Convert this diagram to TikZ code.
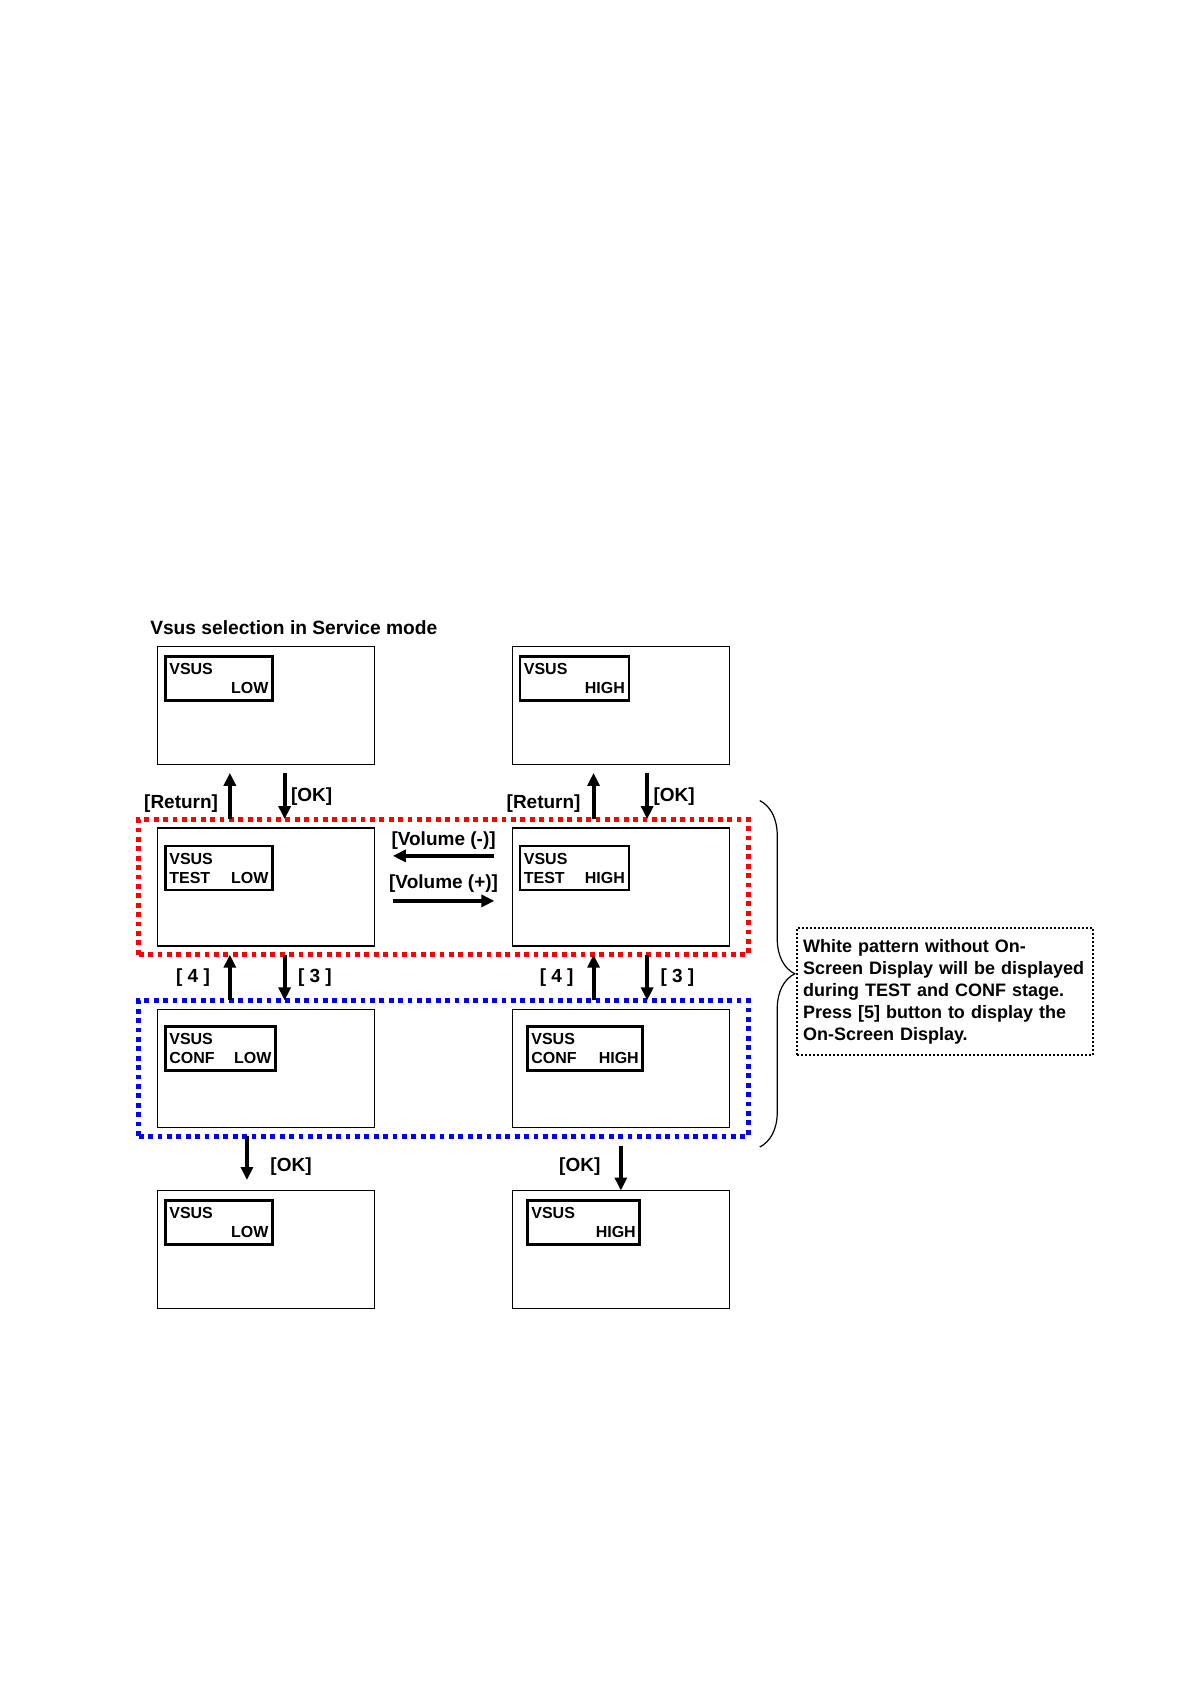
\documentclass[tikz,border=0pt]{standalone}
\usepackage{fontspec}
\setmainfont{Liberation Sans}
\usepackage{tikz}
\usetikzlibrary{
  arrows.meta,
  positioning,
  fit,
  calc,
  decorations.pathreplacing,
}
\setlength{\parindent}{0pt}
\hyphenpenalty=10000
\definecolor{testRed}{HTML}{FF0000}
\definecolor{confBlue}{HTML}{0000FF}
\newcommand{\pushright}{\hskip 0pt plus 1filll\relax}
\tikzset{
  screen/.style={
    rectangle, draw=black, line width=0.6pt, fill=white,
    minimum width=108.5pt, minimum height=59pt, inner sep=0pt, outer sep=0pt,
  },
  osd/.style={
    rectangle, draw=black, line width=1.3pt, outer sep=0pt,
    inner xsep=2pt, inner ysep=1pt, minimum height=22pt,
    text width=#1, align=left, font=\fontsize{8}{9.6}\selectfont\bfseries,
  },
  stageFrame/.style={
    rectangle, draw=#1, line width=2.5pt, dash pattern=on 2.4pt off 2.3pt,
    inner xsep=9.5pt, inner ysep=4.4pt, outer sep=0pt,
  },
  titleText/.style={
    inner sep=0pt, font=\fontsize{9.6}{11.5}\selectfont\bfseries,
  },
  keyLabel/.style={
    inner sep=0pt, yshift=-1.6pt, font=\fontsize{9.5}{11}\selectfont\bfseries,
  },
  flowArrow/.style={
    -{Triangle[length=6.5pt,width=6pt]}, line width=2pt, draw=black,
  },
  noteBrace/.style={
    decorate, decoration={brace, amplitude=17.5pt}, line width=0.6pt,
  },
  noteBox/.style={
    rectangle, draw=black, line width=1pt, dash pattern=on 1pt off 1pt,
    inner xsep=3pt, inner ysep=2pt, text width=142pt, minimum height=63.5pt,
    align=left, font=\fontsize{9}{11}\selectfont\bfseries,
  },
}

\begin{document}
\begin{tikzpicture}[x=0.5pt, y=-0.5pt, node distance=31.65pt and 68.75pt]

\fill[white] (0,0) rectangle (1190,1684);
\useasboundingbox (0,0) rectangle (1190,1684);

% screens
\node[screen] (lowStart) at (266.35,705.6) {};
\node[screen, right=of lowStart] (highStart) {};
\node[screen, below=of lowStart] (testLow) {};
\node[screen, right=of testLow] (testHigh) {};
\node[screen, below=of testLow] (confLow) {};
\node[screen, right=of confLow] (confHigh) {};
\node[screen, below=of confLow] (lowEnd) {};
\node[screen, right=of lowEnd] (highEnd) {};

\node[titleText, anchor=west] (title) at ($(lowStart.north west)+(-8,-18.5)$)
  {Vsus selection in Service mode};

% on-screen displays
\node[osd=49.5pt, below right=4.85pt and 3.75pt of lowStart.north west] (lowStartOsd)
  {VSUS\\\pushright LOW};
\node[osd=50.5pt, below right=4.85pt and 3.75pt of highStart.north west] (highStartOsd)
  {VSUS\\\pushright HIGH};
\node[osd=49.5pt, below right=9.1pt and 3.75pt of testLow.north west] (testLowOsd)
  {VSUS\\TEST\pushright LOW};
\node[osd=50.5pt, below right=9.1pt and 3.75pt of testHigh.north west] (testHighOsd)
  {VSUS\\TEST\pushright HIGH};
\node[osd=51.1pt, below right=8.6pt and 3.75pt of confLow.north west] (confLowOsd)
  {VSUS\\CONF\pushright LOW};
\node[osd=53.7pt, below right=8.6pt and 7.5pt of confHigh.north west] (confHighOsd)
  {VSUS\\CONF\pushright HIGH};
\node[osd=49.5pt, below right=4.85pt and 3.75pt of lowEnd.north west] (lowEndOsd)
  {VSUS\\\pushright LOW};
\node[osd=52.2pt, below right=4.85pt and 7.5pt of highEnd.north west] (highEndOsd)
  {VSUS\\\pushright HIGH};

% TEST / CONF stage frames
\node[stageFrame=testRed, fit=(testLow)(testHigh)] (testBox) {};
\node[stageFrame=confBlue, fit=(confLow)(confHigh)] (confBox) {};

% key arrows
\coordinate (retL) at ($(lowStart.south)+(-36.5,8.3)$);
\coordinate (okL)  at ($(lowStart.south)+(18.3,8.3)$);
\coordinate (retH) at ($(highStart.south)+(-27.3,8.3)$);
\coordinate (okH)  at ($(highStart.south)+(26.3,8.3)$);

\draw[flowArrow] (testBox.north -| retL) -- node[keyLabel, pos=0.4, left=4.9pt] {[Return]} (retL);
\draw[flowArrow] (okL) -- node[keyLabel, pos=0.45, right=2.2pt] {[OK]} (testBox.north -| okL);
\draw[flowArrow] (testBox.north -| retH) -- node[keyLabel, pos=0.4, left=5.5pt] {[Return]} (retH);
\draw[flowArrow] (okH) -- node[keyLabel, pos=0.45, right=2.2pt] {[OK]} (testBox.north -| okH);

\draw[flowArrow] (confBox.north -| retL) -- node[keyLabel, pos=0.56, left=9pt] {[ 4 ]} (testBox.south -| retL);
\draw[flowArrow] (testBox.south -| okL) -- node[keyLabel, pos=0.44, right=5.7pt] {[ 3 ]} (confBox.north -| okL);
\draw[flowArrow] (confBox.north -| retH) -- node[keyLabel, pos=0.56, left=9pt] {[ 4 ]} (testBox.south -| retH);
\draw[flowArrow] (testBox.south -| okH) -- node[keyLabel, pos=0.44, right=5.7pt] {[ 3 ]} (confBox.north -| okH);

\coordinate (okEndL) at ($(lowEnd.north)+(-19.4,-10.5)$);
\coordinate (okEndH) at ($(highEnd.north)+(0,-45)$);
\draw[flowArrow] (confBox.south -| okEndL) -- node[keyLabel, pos=0.62, right=10.75pt] {[OK]} (okEndL);
\draw[flowArrow] (okEndH) -- node[keyLabel, pos=0.4, left=9.25pt] {[OK]} (highEnd.north);

% volume keys
\coordinate (volMinusA) at ($(testHigh.north west)+(-18,28)$);
\coordinate (volMinusB) at ($(testLow.north east)+(18,28)$);
\coordinate (volPlusA)  at ($(testLow.north east)+(18,73)$);
\coordinate (volPlusB)  at ($(testHigh.north west)+(-18,73)$);
\draw[flowArrow] (volMinusA) -- node[keyLabel, above=3.9pt] {[Volume (-)]} (volMinusB);
\draw[flowArrow] (volPlusA) -- node[keyLabel, above=4.6pt] {[Volume (+)]} (volPlusB);

% brace and note
\coordinate (braceTop) at ($(testBox.north east)+(11.4,-18.5)$);
\coordinate (braceBot) at ($(confBox.south east)+(11.4,11)$);
\draw[noteBrace] (braceTop) -- (braceBot);
\node[noteBox] (note) at (945,991.5) {%
  White pattern without On-\\Screen Display will be displayed\\during TEST and CONF stage.\\Press [5] button to display the\\On-Screen Display.%
};

\end{tikzpicture}
\end{document}
